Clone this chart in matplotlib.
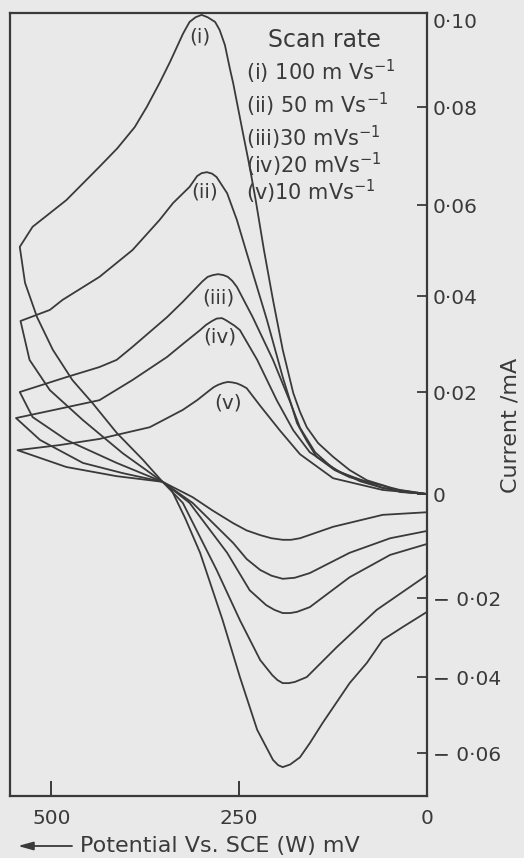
import numpy as np
import matplotlib
matplotlib.use("Agg")
import matplotlib.pyplot as plt

# cyclic voltammograms, potential in mV vs SCE, current in mA
# each loop: anodic sweep 0 -> vertex, then cathodic sweep back to 0
pot_100 = [0, 36, 56, 80, 103, 125, 145, 160, 169, 178, 192, 205, 217, 228, 236, 245, 258, 262,
           269, 276, 282, 292, 300, 308, 316, 322, 325, 342, 356, 373, 389, 412, 436, 480, 525, 542,
           535, 519, 498, 472, 445, 413, 378, 352, 342, 322, 302, 272, 249, 226, 205, 198, 192,
           182, 169, 156, 139, 103, 80, 59, 32, 0]
cur_100 = [0.0, 0.0004, 0.0016, 0.0027, 0.0047, 0.0073, 0.0100, 0.0131, 0.0161, 0.0198, 0.0288,
           0.0392, 0.0501, 0.0610, 0.0678, 0.0747, 0.0851, 0.0879, 0.0932, 0.0964, 0.0981,
           0.0991, 0.0996, 0.0991, 0.0981, 0.0964, 0.0955, 0.0896, 0.0851, 0.0800, 0.0759,
           0.0716, 0.0678, 0.0610, 0.0552, 0.0508,
           0.0429, 0.0356, 0.0288, 0.0225, 0.0178, 0.0120, 0.0067, 0.0024, 0.0014, -0.0046,
           -0.0113, -0.0256, -0.0400, -0.0539, -0.0618, -0.0632, -0.0637, -0.0630, -0.0611,
           -0.0574, -0.0521, -0.0416, -0.0364, -0.0306, -0.0273, -0.0235]

pot_50 = [0, 36, 103, 123, 147, 160, 173, 192, 213, 240, 253, 266, 280, 286, 293, 300, 306, 316,
          338, 356, 392, 436, 485, 502, 541,
          529, 502, 458, 405, 352, 325, 280, 249, 222, 206, 199, 192, 184, 176, 160, 120, 67, 0]
cur_50 = [0.0, 0.0008, 0.0033, 0.0047, 0.0073, 0.0104, 0.0139, 0.0231, 0.0350, 0.0495, 0.0567,
          0.0624, 0.0657, 0.0664, 0.0667, 0.0665, 0.0659, 0.0637, 0.0604, 0.0567, 0.0501,
          0.0442, 0.0392, 0.0371, 0.0348,
          0.0267, 0.0204, 0.0145, 0.0080, 0.0024, -0.0017, -0.0146, -0.0256, -0.0357, -0.0395,
          -0.0408, -0.0416, -0.0416, -0.0413, -0.0400, -0.0324, -0.0230, -0.0156]

pot_30 = [0, 29, 59, 89, 125, 149, 169, 182, 205, 232, 253, 259, 265, 271, 278, 285, 292, 299,
          306, 325, 346, 392, 413, 436, 480, 542,
          525, 480, 413, 352, 316, 266, 236, 214, 203, 192, 182, 173, 156, 103, 49, 0]
cur_30 = [0.0, 0.0004, 0.0012, 0.0025, 0.0050, 0.0082, 0.0130, 0.0180, 0.0267, 0.0356, 0.0420,
          0.0433, 0.0442, 0.0446, 0.0448, 0.0446, 0.0442, 0.0432, 0.0420, 0.0388, 0.0356,
          0.0294, 0.0267, 0.0252, 0.0231, 0.0200,
          0.0151, 0.0106, 0.0061, 0.0024, -0.0017, -0.0113, -0.0185, -0.0218, -0.0230, -0.0238,
          -0.0238, -0.0235, -0.0223, -0.0160, -0.0117, -0.0096]

pot_20 = [0, 59, 116, 156, 178, 200, 226, 249, 256, 262, 268, 273, 280, 286, 294, 302, 325, 346,
          392, 436, 496, 547,
          515, 458, 405, 352, 312, 258, 240, 222, 207, 192, 176, 156, 103, 49, 0]
cur_20 = [0.0, 0.0012, 0.0043, 0.0082, 0.0125, 0.0184, 0.0267, 0.0329, 0.0338, 0.0344, 0.0350,
          0.0354, 0.0353, 0.0348, 0.0340, 0.0329, 0.0300, 0.0273, 0.0225, 0.0184, 0.0165, 0.0149,
          0.0106, 0.0061, 0.0041, 0.0024, -0.0017, -0.0094, -0.0125, -0.0146, -0.0157, -0.0163,
          -0.0161, -0.0152, -0.0113, -0.0085, -0.0071]

pot_10 = [0, 59, 125, 169, 196, 222, 240, 247, 253, 259, 265, 271, 278, 284, 289, 306, 325, 369,
          413, 436, 489, 545,
          480, 413, 352, 312, 285, 258, 240, 222, 207, 192, 181, 169, 125, 59, 0]
cur_10 = [0.0, 0.0008, 0.0031, 0.0078, 0.0125, 0.0173, 0.0208, 0.0214, 0.0218, 0.0220, 0.0221,
          0.0219, 0.0215, 0.0210, 0.0204, 0.0184, 0.0165, 0.0131, 0.0116, 0.0108, 0.0096, 0.0086,
          0.0053, 0.0035, 0.0024, -0.0006, -0.0032, -0.0056, -0.0070, -0.0079, -0.0085, -0.0088,
          -0.0088, -0.0085, -0.0063, -0.0040, -0.0035]

curve_names = ["(i)", "(ii)", "(iii)", "(iv)", "(v)"]
legend_lines = [r"(i) 100 m Vs$^{-1}$", r"(ii) 50 m Vs$^{-1}$", r"(iii)30 mVs$^{-1}$",
                r"(iv)20 mVs$^{-1}$", r"(v)10 mVs$^{-1}$"]
x_ticks = [500, 250, 0]
y_ticks = [-0.06, -0.04, -0.02, 0, 0.02, 0.04, 0.06, 0.08, 0.10]
y_ticklabels = ["\u2212 0\u00b706", "\u2212 0\u00b704", "\u2212 0\u00b702", "0",
                "0\u00b702", "0\u00b704", "0\u00b706", "0\u00b708", "0\u00b710"]

# the hand drawn current axis is not evenly spaced: map tick values to drawn heights
scale_vals = [-0.08, -0.06, -0.04, -0.02, 0, 0.02, 0.04, 0.06, 0.08, 0.10]
scale_px = [-33, 43, 119, 198, 302, 404, 500, 591, 689, 783]

def fwd(v):
    return np.interp(v, scale_vals, scale_px)

def inv(p):
    return np.interp(p, scale_px, scale_vals)

# where the "(i)".."(v)" tags sit, in data units
tag_at = [(302, 0.0949), (296, 0.0627), (278, 0.0396), (276, 0.0315), (265, 0.0178)]

BG = "#e9e9e9"
INK = "#3a3a3a"
plt.rcParams["font.family"] = "DejaVu Sans"
plt.rcParams["mathtext.default"] = "regular"

fig = plt.figure(figsize=(5.24, 8.58), dpi=100, facecolor=BG)
ax = fig.add_axes([10 / 524, 62 / 858, 417 / 524, 783 / 858])
ax.set_facecolor(BG)
ax.set_yscale("function", functions=(fwd, inv))

for p, c in [(pot_100, cur_100), (pot_50, cur_50), (pot_30, cur_30),
             (pot_20, cur_20), (pot_10, cur_10)]:
    ax.plot(p, c, color=INK, lw=1.3, solid_joinstyle="round")

ax.set_xlim(555, 0)
ax.set_ylim(-0.0713, 0.10)

for name, (x, y) in zip(curve_names, tag_at):
    ax.text(x, y, name, ha="center", va="center", fontsize=14.5, color=INK)

ax.text(0.755, 0.966, "Scan rate", transform=ax.transAxes, ha="center", va="center",
        fontsize=17, color=INK)
rows = [0.925, 0.882, 0.841, 0.806, 0.772]
for txt, fy in zip(legend_lines, rows):
    ax.text(0.566, fy, txt, transform=ax.transAxes, ha="left", va="center",
            fontsize=15, color=INK)

for s in ax.spines.values():
    s.set_color(INK)
    s.set_linewidth(1.6)

ax.set_xticks(x_ticks)
ax.set_xticklabels([str(v) for v in x_ticks])
ax.set_yticks(y_ticks)
ax.set_yticklabels(y_ticklabels)
ax.tick_params(axis="x", direction="in", length=11, width=1.4, pad=9,
               labelsize=14.5, colors=INK)
ax.tick_params(axis="y", direction="in", left=False, right=True, labelleft=False,
               labelright=True, length=7, width=1.3, pad=4, labelsize=14.5, colors=INK)
ax.yaxis.get_ticklabels()[-1].set_va("top")

fig.text(510 / 524, 1 - 425 / 858, "Current /mA", rotation=90, ha="center", va="center",
         fontsize=16, color=INK)
fig.text(80 / 524, 1 - 846 / 858, "Potential Vs. SCE (W) mV", ha="left", va="center",
         fontsize=16, color=INK)
ax.annotate("", xy=(18 / 524, 1 - 846 / 858), xytext=(72 / 524, 1 - 846 / 858),
            xycoords="figure fraction", textcoords="figure fraction",
            arrowprops=dict(arrowstyle="-|>,head_length=0.9,head_width=0.25",
                            color=INK, lw=1.3, shrinkA=0, shrinkB=0))

fig.savefig("out.png", dpi=100, facecolor=BG)
